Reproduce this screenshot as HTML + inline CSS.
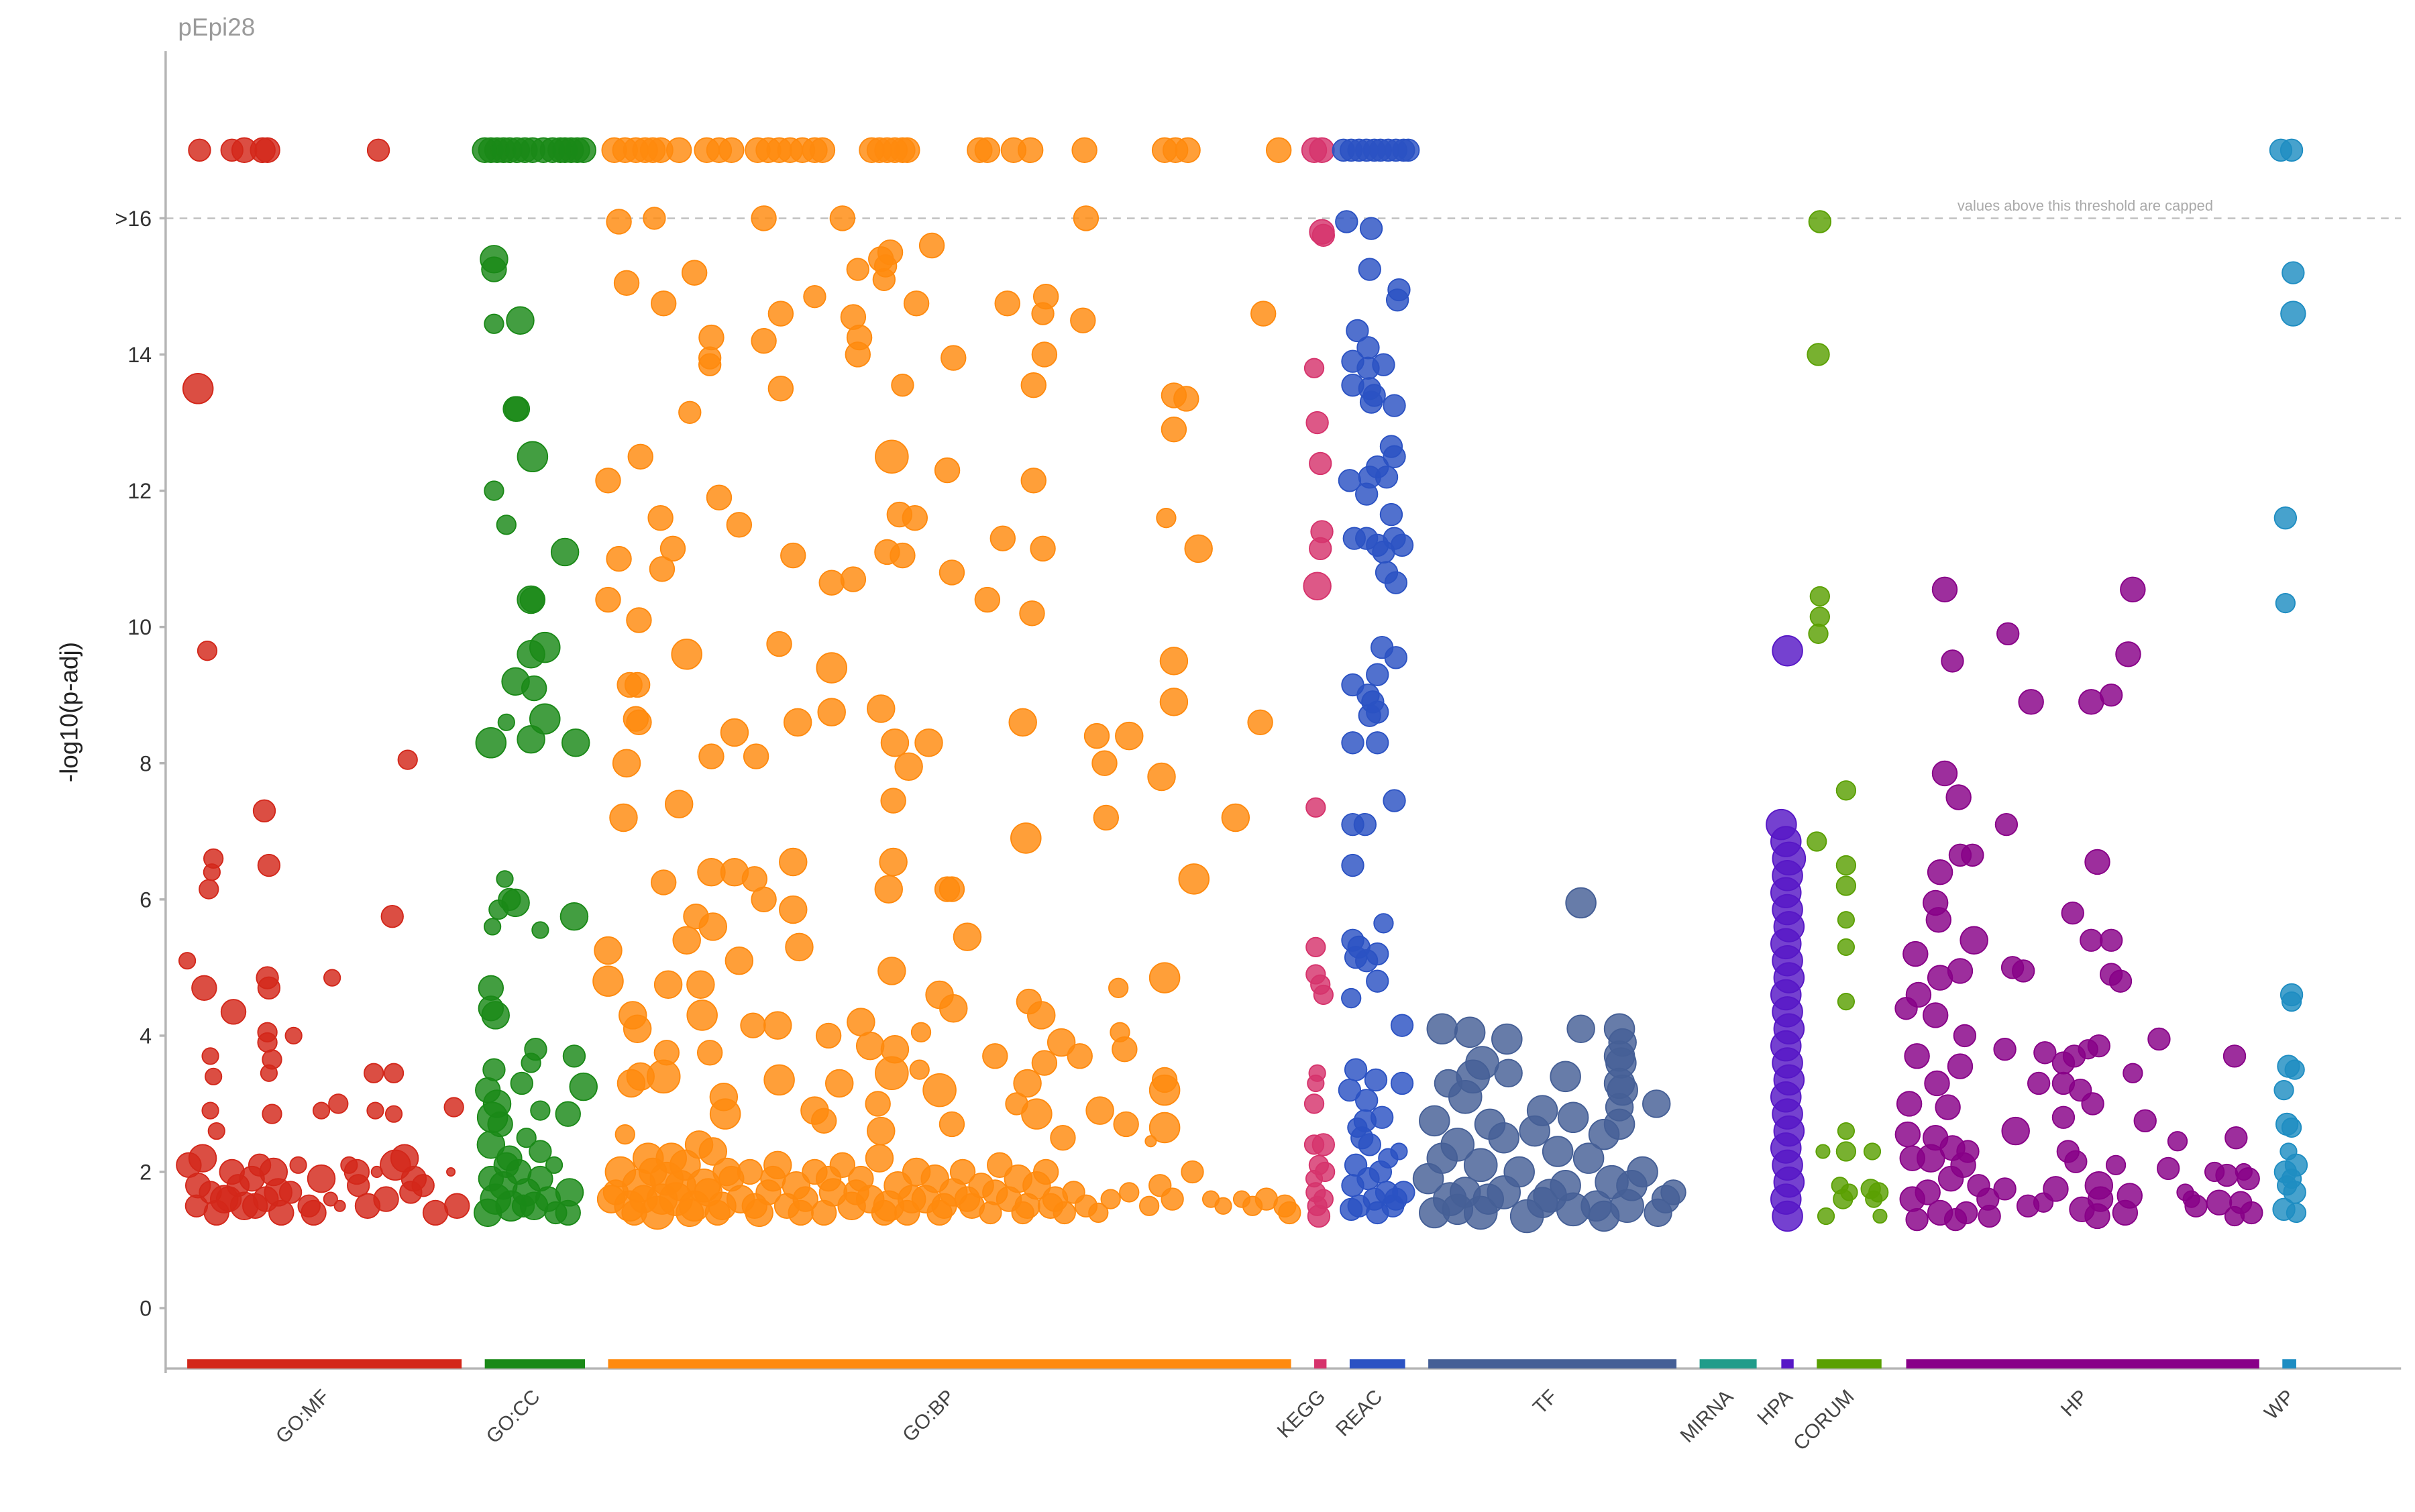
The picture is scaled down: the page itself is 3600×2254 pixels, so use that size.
<!DOCTYPE html>
<html><head><meta charset="utf-8"><style>
html,body{margin:0;padding:0;background:#fff;}
svg{display:block;font-family:"Liberation Sans",Arial,sans-serif;}
</style></head><body>
<svg id="chart" width="3600" height="2254" viewBox="0 0 1560 976.7" preserveAspectRatio="none" xmlns="http://www.w3.org/2000/svg">
<text x="115" y="23" font-size="16" fill="#9a9a9a">pEpi28</text>
<text transform="translate(50,460) rotate(-90)" text-anchor="middle" font-size="16" fill="#222">-log10(p-adj)</text>
<g id="grid"></g>
<g id="points"></g>
<g id="axes"></g>
</svg>
<script>
const NS='http://www.w3.org/2000/svg';
const tickValues=[0,2,4,6,8,10,12,14,16];
const tickLabels=['0','2','4','6','8','10','12','14','>16'];
const capValue=16;
const cappedValue=17;
const sourceNames=['GO:MF','GO:CC','GO:BP','KEGG','REAC','TF','MIRNA','HPA','CORUM','HP','WP'];
const sourceStarts=[121,314,394,852,875,926,1102,1155,1178,1236,1480];
const sourceEnds=[299,379,837,860,911,1087,1139,1163,1220,1465,1489];
const sourceColors=['#d3271a','#1a8917','#ff8a0e','#d6336c','#2b52c3','#455f96','#219c8a','#5717c6','#5aa002','#880088','#1e8dc2'];
// points: [term position, -log10(p-adj), size]
const goMF=[[129,17,8],[150,17,8],[158,17,9],[170,17,9],[173,17,9],[245,17,8],
[128,13.5,11],[134,9.65,7],[264,8.05,7],[171,7.3,8],[138,6.6,7],[137,6.4,6],[135,6.15,7],[174,6.5,8],[254,5.75,8],[121,5.1,6],[132,4.7,9],[173,4.85,8],[174,4.7,8],[215,4.85,6],[151,4.35,9],[173,4.05,7],[173,3.9,7],[190,4.0,6],[176,3.65,7],[174,3.45,6],[136,3.7,6],[138,3.4,6],[242,3.45,7],[255,3.45,7],[219,3.0,7],[208,2.9,6],[136,2.9,6],[176,2.85,7],[243,2.9,6],[140,2.6,6],[294,2.95,7],[255,2.85,6],
[122,2.1,9],[127,1.5,8],[131,2.2,10],[136,1.7,8],[140,1.4,9],[145,1.6,10],[150,2.0,9],[154,1.8,8],[158,1.5,10],[163,1.9,9],[168,2.1,8],[172,1.6,9],[177,2.0,10],[182,1.4,9],[188,1.7,8],[193,2.1,6],[200,1.5,8],[208,1.9,10],[214,1.6,5],[220,1.5,4],[226,2.1,6],[232,1.8,8],[238,1.5,9],[244,2.0,4],[250,1.6,9],[256,2.1,11],[262,2.2,10],[268,1.9,9],[274,1.8,8],[282,1.4,9],[292,2.0,3],[296,1.5,9],[128,1.8,9],[148,1.6,9],[165,1.5,9],[180,1.7,10],[203,1.4,9],[231,2.0,9],[266,1.7,8]];
const goCC=[[314,17,9],[318,17,9],[322,17,9],[326,17,9],[330,17,9],[335,17,9],[340,17,9],[345,17,9],[352,17,9],[358,17,9],[363,17,9],[366,17,9],[370,17,9],[374,17,9],[378,17,9],
[320,15.4,10],[320,15.25,9],[337,14.5,10],[320,14.45,7],[334,13.2,9],[335,13.2,9],[345,12.5,11],[320,12.0,7],[328,11.5,7],[366,11.1,10],[344,10.4,10],[345,10.4,9],[353,9.7,11],[344,9.6,10],[334,9.2,10],[346,9.1,9],[353,8.65,11],[328,8.6,6],[344,8.35,10],[318,8.3,11],[373,8.3,10],[327,6.3,6],[330,6.0,8],[334,5.95,10],[323,5.85,7],[319,5.6,6],[350,5.55,6],[372,5.75,10],[318,4.7,9],[318,4.4,9],[321,4.3,10],[347,3.8,8],[344,3.6,7],[320,3.5,8],[372,3.7,8],[316,3.2,9],[338,3.3,8],[322,3.0,10],[350,2.9,7],[368,2.85,9],[319,2.8,11],[324,2.7,9],[341,2.5,7],[318,2.4,10],[350,2.3,8],[378,3.25,10],[330,2.2,9],[359,2.1,6],
[316,1.4,10],[321,1.6,11],[326,1.8,10],[331,1.5,11],[336,2.0,9],[341,1.7,10],[346,1.5,10],[350,1.9,9],[355,1.6,9],[360,1.4,8],[369,1.7,10],[368,1.4,9],[318,1.9,9],[339,1.5,8],[328,2.1,9]];
const goBP=[[398,17,9],[405,17,9],[412,17,9],[418,17,9],[423,17,9],[428,17,9],[440,17,9],[458,17,9],[466,17,9],[474,17,9],[491,17,9],[498,17,9],[505,17,9],[512,17,9],[520,17,9],[528,17,9],[533,17,9],[565,17,9],[570,17,9],[575,17,9],[580,17,9],[585,17,9],[588,17,9],[635,17,9],[640,17,9],[657,17,9],[668,17,9],[703,17,9],[755,17,9],[762,17,9],[770,17,9],[829,17,9],
[401,15.95,9],[424,16,8],[495,16,9],[546,16,9],[704,16,9],[604,15.6,9],[571,15.4,9],[577,15.5,9],[556,15.25,8],[574,15.3,8],[573,15.1,8],[450,15.2,9],[406,15.05,9],[528,14.85,8],[678,14.85,9],[430,14.75,9],[594,14.75,9],[653,14.75,9],[506,14.6,9],[676,14.6,8],[702,14.5,9],[819,14.6,9],[553,14.55,9],[461,14.25,9],[495,14.2,9],[557,14.25,9],[556,14.0,9],[677,14.0,9],[618,13.95,9],[460,13.85,8],[460,13.95,8],[585,13.55,8],[670,13.55,9],[506,13.5,9],[761,13.4,9],[769,13.35,9],[447,13.15,8],[761,12.9,9],[415,12.5,9],[578,12.5,12],[614,12.3,9],[394,12.15,9],[670,12.15,9],[466,11.9,9],[583,11.65,9],[593,11.6,9],[428,11.6,9],[756,11.6,7],[479,11.5,9],[650,11.3,9],[436,11.15,9],[676,11.15,9],[777,11.15,10],[575,11.1,9],[585,11.05,9],[514,11.05,9],[401,11.0,9],[429,10.85,9],[617,10.8,9],[539,10.65,9],[553,10.7,9],[640,10.4,9],[394,10.4,9],[669,10.2,9],[414,10.1,9],[505,9.75,9],[445,9.6,11],[539,9.4,11],[761,9.5,10],[408,9.15,9],[413,9.15,9],[761,8.9,10],[571,8.8,10],[539,8.75,10],[412,8.65,9],[414,8.6,9],[517,8.6,10],[663,8.6,10],[817,8.6,9],[476,8.45,10],[711,8.4,9],[732,8.4,10],[602,8.3,10],[580,8.3,10],[461,8.1,9],[490,8.1,9],[406,8.0,10],[716,8.0,9],[589,7.95,10],[753,7.8,10],[579,7.45,9],[440,7.4,10],[404,7.2,10],[717,7.2,9],[801,7.2,10],[665,6.9,11],[579,6.55,10],[514,6.55,10],[476,6.4,10],[461,6.4,10],[489,6.3,9],[430,6.25,9],[774,6.3,11],[576,6.15,10],[614,6.15,9],[617,6.15,9],[495,6.0,9],[514,5.85,10],[451,5.75,9],[462,5.6,10],[627,5.45,10],[445,5.4,10],[518,5.3,10],[394,5.25,10],[479,5.1,10],[578,4.95,10],[755,4.85,11],[394,4.8,11],[433,4.75,10],[454,4.75,10],[725,4.7,7],[609,4.6,10],[667,4.5,9],[618,4.4,10],[410,4.3,10],[455,4.3,11],[675,4.3,10],[558,4.2,10],[504,4.15,10],[488,4.15,9],[413,4.1,10],[726,4.05,7],[597,4.05,7],[537,4.0,9],[688,3.9,10],[564,3.85,10],[729,3.8,9],[580,3.8,10],[432,3.75,9],[460,3.75,9],[645,3.7,9],[700,3.7,9],[677,3.6,9],[596,3.5,7],[578,3.45,12],[415,3.4,10],[430,3.4,12],[505,3.35,11],[544,3.3,10],[666,3.3,10],[755,3.35,9],[409,3.3,10],[755,3.2,11],[609,3.2,12],[469,3.1,10],[569,3.0,9],[659,3.0,8],[713,2.9,10],[528,2.9,10],[672,2.85,11],[470,2.85,11],[534,2.75,9],[730,2.7,9],[617,2.7,9],[755,2.65,11],[571,2.6,10],[405,2.55,7],[689,2.5,9],[746,2.45,4],
[396,1.6,10],[402,2.0,11],[408,1.5,11],[414,1.8,12],[420,2.2,11],[426,1.4,12],[432,1.9,12],[438,1.6,12],[444,2.1,11],[450,1.5,11],[456,1.8,12],[462,2.3,10],[468,1.5,10],[474,1.9,9],[480,1.6,10],[486,2.0,9],[492,1.4,10],[498,1.7,9],[504,2.1,10],[510,1.5,9],[516,1.8,10],[522,1.6,9],[528,2.0,9],[534,1.4,9],[540,1.7,10],[546,2.1,9],[552,1.5,10],[558,1.9,9],[564,1.6,10],[570,2.2,10],[576,1.5,11],[582,1.8,10],[588,1.4,9],[594,2.0,10],[600,1.6,10],[606,1.9,10],[612,1.5,9],[618,1.7,10],[624,2.0,9],[630,1.5,9],[636,1.8,9],[642,1.4,8],[648,2.1,9],[654,1.6,9],[660,1.9,10],[666,1.5,9],[672,1.8,10],[678,2.0,9],[684,1.6,9],[690,1.4,8],[696,1.7,8],[704,1.5,8],[712,1.4,7],[720,1.6,7],[732,1.7,7],[745,1.5,7],[752,1.8,8],[760,1.6,8],[773,2.0,8],[785,1.6,6],[793,1.5,6],[805,1.6,6],[812,1.5,7],[821,1.6,8],[833,1.5,8],[836,1.4,8],
[399,1.7,9],[411,1.4,9],[417,1.6,10],[423,2.0,10],[429,1.6,11],[435,2.2,11],[441,1.8,11],[447,1.4,10],[453,2.4,10],[459,1.7,10],[465,1.4,9],[471,2.0,10],[489,1.5,9],[501,1.9,9],[519,1.4,9],[537,1.9,9],[555,1.7,9],[573,1.4,9],[591,1.6,10],[609,1.4,9],[627,1.6,9],[645,1.7,9],[663,1.4,8],[681,1.5,9]];
const kegg=[[852,17,9],[857,17,9],[857,15.8,9],[858,15.75,8],[852,13.8,7],[854,13.0,8],[856,12.4,8],[857,11.4,8],[856,11.15,8],[854,10.6,10],[853,7.35,7],[853,5.3,7],[853,4.9,7],[856,4.75,7],[858,4.6,7],[854,3.45,6],[853,3.3,6],[852,3.0,7],[852,2.4,7],[858,2.4,8],[855,2.1,7],[852,1.9,6],[853,1.7,7],[854,1.5,7],[855,1.35,8],[858,1.6,7],[859,2.0,7]];
const reac=[[871,17,8],[876,17,8],[881,17,8],[886,17,8],[891,17,8],[895,17,8],[900,17,8],[905,17,8],[910,17,8],[913,17,8],
[873,15.95,8],[889,15.85,8],[888,15.25,8],[907,14.95,8],[906,14.8,8],[880,14.35,8],[887,14.1,8],[877,13.9,8],[897,13.85,8],[887,13.8,8],[877,13.55,8],[888,13.5,8],[891,13.4,8],[889,13.3,8],[904,13.25,8],[902,12.65,8],[904,12.5,8],[893,12.35,8],[899,12.2,8],[875,12.15,8],[888,12.2,8],[886,11.95,8],[902,11.65,8],[878,11.3,8],[886,11.3,8],[893,11.2,8],[904,11.3,8],[909,11.2,8],[897,11.1,8],[899,10.8,8],[905,10.65,8],[896,9.7,8],[905,9.55,8],[893,9.3,8],[877,9.15,8],[887,9.0,8],[890,8.9,8],[893,8.75,8],[888,8.7,8],[877,8.3,8],[893,8.3,8],[904,7.45,8],[877,7.1,8],[885,7.1,8],[877,6.5,8],[897,5.65,7],[877,5.4,8],[881,5.3,8],[879,5.15,8],[893,5.2,8],[886,5.1,8],[893,4.8,8],[876,4.55,7],[909,4.15,8],[879,3.5,8],[892,3.35,8],[909,3.3,8],[875,3.2,8],[886,3.05,8],[896,2.8,8],[885,2.75,8],[880,2.65,7],[883,2.5,8],[888,2.4,8],[907,2.3,6],[879,2.1,8],[895,2.0,8],[877,1.8,8],[887,1.9,8],[899,1.7,8],[905,1.6,8],[881,1.5,8],[893,1.4,8],[910,1.7,8],[876,1.45,8],[903,1.5,8],[900,2.2,7],[891,1.6,8]];
const tf=[[1025,5.95,11],[935,4.1,11],[953,4.05,11],[977,3.95,11],[1025,4.1,10],[1050,4.1,11],[1052,3.9,10],[961,3.6,12],[955,3.4,12],[978,3.45,10],[1015,3.4,11],[939,3.3,10],[950,3.1,12],[1074,3.0,10],[1050,2.95,10],[1020,2.8,11],[930,2.75,11],[966,2.7,11],[995,2.6,11],[1040,2.55,11],[945,2.4,12],[1010,2.3,11],[1030,2.2,11],[960,2.1,12],[985,2.0,11],[1065,2.0,11],[926,1.9,11],[1045,1.85,12],[975,1.7,12],[1005,1.65,12],[1080,1.6,10],[940,1.6,12],[1055,1.5,12],[1020,1.45,12],[960,1.4,12],[990,1.35,12],[930,1.4,11],[1075,1.4,10],[1035,1.5,11],[1000,1.55,11],[950,1.7,11],[1015,1.8,11],[965,1.6,11],[945,1.45,11],[1040,1.35,11],[1058,1.8,11],[1085,1.7,9],[1051,3.6,11],[1050,3.3,11],[1052,3.2,11],[1050,2.7,11],[1050,3.7,11],[935,2.2,11],[975,2.5,11],[1000,2.9,11]];
const mirna=[];
const hpa=[[1159,9.65,11],[1155,7.1,11],[1158,6.85,11],[1160,6.6,12],[1159,6.35,11],[1158,6.1,11],[1159,5.85,11],[1160,5.6,11],[1158,5.35,11],[1159,5.1,11],[1160,4.85,11],[1158,4.6,11],[1159,4.35,11],[1160,4.1,11],[1158,3.85,11],[1159,3.6,11],[1160,3.35,11],[1158,3.1,11],[1159,2.85,11],[1160,2.6,11],[1158,2.35,11],[1159,2.1,11],[1160,1.85,11],[1158,1.6,11],[1159,1.35,11]];
const corum=[[1180,15.95,8],[1179,14.0,8],[1180,10.45,7],[1180,10.15,7],[1179,9.9,7],[1197,7.6,7],[1178,6.85,7],[1197,6.5,7],[1197,6.2,7],[1197,5.7,6],[1197,5.3,6],[1197,4.5,6],[1197,2.6,6],[1197,2.3,7],[1182,2.3,5],[1214,2.3,6],[1193,1.8,6],[1199,1.7,6],[1195,1.6,7],[1213,1.75,7],[1218,1.7,7],[1215,1.6,6],[1184,1.35,6],[1219,1.35,5]];
const hp=[[1261,10.55,9],[1383,10.55,9],[1302,9.9,8],[1380,9.6,9],[1266,9.5,8],[1369,9.0,8],[1317,8.9,9],[1356,8.9,9],[1261,7.85,9],[1270,7.5,9],[1301,7.1,8],[1279,6.65,8],[1271,6.65,8],[1360,6.55,9],[1258,6.4,9],[1255,5.95,9],[1344,5.8,8],[1257,5.7,9],[1280,5.4,10],[1356,5.4,8],[1369,5.4,8],[1242,5.2,9],[1305,5.0,8],[1312,4.95,8],[1369,4.9,8],[1258,4.85,9],[1271,4.95,9],[1375,4.8,8],[1244,4.6,9],[1236,4.4,8],[1255,4.3,9],[1274,4.0,8],[1400,3.95,8],[1300,3.8,8],[1354,3.8,7],[1361,3.85,8],[1345,3.7,8],[1326,3.75,8],[1243,3.7,9],[1449,3.7,8],[1338,3.6,8],[1271,3.55,9],[1383,3.45,7],[1322,3.3,8],[1256,3.3,9],[1338,3.3,8],[1349,3.2,8],[1357,3.0,8],[1238,3.0,9],[1263,2.95,9],[1338,2.8,8],[1391,2.75,8],[1307,2.6,10],[1237,2.55,9],[1450,2.5,8],[1412,2.45,7],[1266,2.35,9],[1341,2.3,8],[1240,2.2,9],[1252,2.2,10],[1346,2.15,8],[1273,2.1,9],[1372,2.1,7],[1406,2.05,8],[1436,2.0,7],[1444,1.95,8],[1458,1.9,8],[1361,1.8,10],[1300,1.75,8],[1333,1.75,9],[1417,1.7,6],[1381,1.65,9],[1240,1.6,9],[1289,1.6,8],[1362,1.6,9],[1439,1.55,9],[1453,1.55,8],[1424,1.5,8],[1315,1.5,8],[1350,1.45,9],[1258,1.4,9],[1275,1.4,8],[1378,1.4,9],[1360,1.35,9],[1290,1.35,8],[1449,1.35,7],[1243,1.3,8],[1268,1.3,8],[1325,1.55,7],[1421,1.6,6],[1455,2.0,6],[1460,1.4,8],[1250,1.7,9],[1265,1.9,9],[1255,2.5,9],[1276,2.3,8],[1283,1.8,8]];
const wp=[[1479,17,8],[1486,17,8],[1487,15.2,8],[1487,14.6,9],[1482,11.6,8],[1482,10.35,7],[1486,4.6,8],[1486,4.5,7],[1484,3.55,8],[1488,3.5,7],[1481,3.2,7],[1483,2.7,8],[1486,2.65,7],[1489,2.1,8],[1482,2.0,8],[1486,1.9,7],[1483,1.8,7],[1488,1.7,8],[1481,1.45,8],[1489,1.4,7],[1484,2.3,6]];
const sourcePoints=[goMF,goCC,goBP,kegg,reac,tf,mirna,hpa,corum,hp,wp];

// scales
const X0=107, X1=1551, Y0=845, PX_PER_UNIT=44, R_SCALE=0.88;
function xScale(v){return X0+(v-107)*(X1-X0)/(1557-107);}
function yScale(v){return Y0-v*PX_PER_UNIT;}

const grid=document.getElementById('grid');
const pts=document.getElementById('points');
const axes=document.getElementById('axes');
function mk(tag,attrs,parent){const e=document.createElementNS(NS,tag);for(const k in attrs)e.setAttribute(k,attrs[k]);parent.appendChild(e);return e;}

// threshold line
const th=mk('line',{x1:X0,x2:X1,y1:yScale(capValue),y2:yScale(capValue),stroke:'#bdbdbd','stroke-width':1,'stroke-dasharray':'5,4'},grid);


const tht=mk('text',{x:1347,y:yScale(capValue)-5,'text-anchor':'middle','font-size':9.5,fill:'#aaa'},grid);
tht.textContent='values above this threshold are capped';



// points
sourcePoints.forEach((arr,si)=>{
  const g=mk('g',{},pts);
  
  
  arr.forEach(p=>{
    const c=mk('circle',{cx:xScale(p[0]),cy:yScale(p[1]),r:p[2]*R_SCALE,fill:sourceColors[si],'fill-opacity':0.82,stroke:sourceColors[si],'stroke-width':0.8},g);
    
    
  });
});

// axes
const ya=mk('line',{x1:X0,x2:X0,y1:33,y2:887,stroke:'#b5b5b5','stroke-width':1.5},axes);


const xa=mk('line',{x1:X0,x2:X1,y1:884,y2:884,stroke:'#b5b5b5','stroke-width':1.5},axes);


tickValues.forEach((v,i)=>{
  const tk=mk('line',{x1:X0-4,x2:X0,y1:yScale(v),y2:yScale(v),stroke:'#b5b5b5','stroke-width':1.5},axes);
  
  
  const t=mk('text',{x:X0-9,y:yScale(v)+5,'text-anchor':'end','font-size':14,fill:'#333'},axes);
  t.textContent=tickLabels[i];
  
  
});
sourceNames.forEach((n,i)=>{
  const b=mk('rect',{x:xScale(sourceStarts[i]),y:878,width:xScale(sourceEnds[i])-xScale(sourceStarts[i]),height:6,fill:sourceColors[i]},axes);
  
  
  const cx=(xScale(sourceStarts[i])+xScale(sourceEnds[i]))/2;
  const t=mk('text',{x:0,y:0,'text-anchor':'end','font-size':13,fill:'#444',transform:'translate('+(cx+4)+',903) rotate(-45)'},axes);
  t.textContent=n;
  
  
});
</script>
</body></html>
